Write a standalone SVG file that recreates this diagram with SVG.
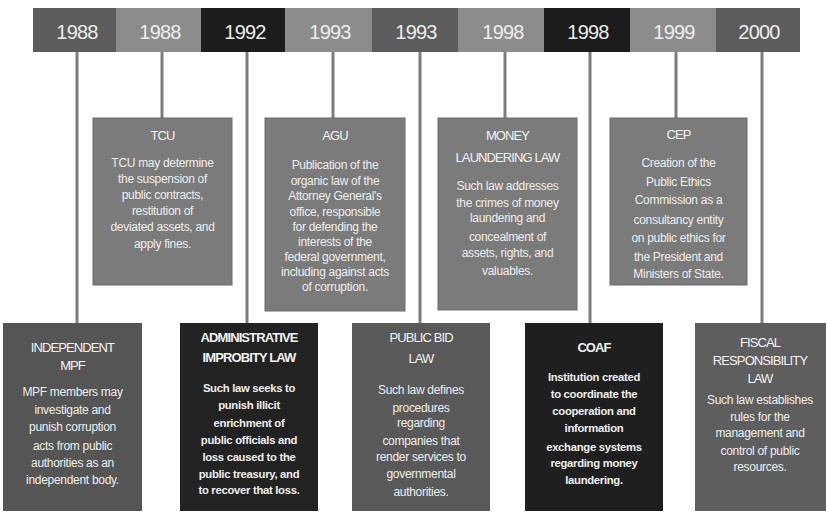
<svg xmlns="http://www.w3.org/2000/svg" width="826" height="514" viewBox="0 0 826 514">
<style>
.yr{font-family:"Liberation Sans",Arial,sans-serif;font-size:20px;fill:#ececec;text-anchor:middle;letter-spacing:-0.8px}
.tt{font-family:"Liberation Sans",Arial,sans-serif;font-size:13px;fill:#f2f2f2;text-anchor:middle;letter-spacing:-0.9px}
.bd{font-family:"Liberation Sans",Arial,sans-serif;font-size:12px;fill:#eeeeee;text-anchor:middle;letter-spacing:-0.3px}
.b{font-weight:bold}
.bd.b{font-size:11.3px}
.conn line{stroke:#7c7c7c;stroke-width:3}
.up{fill:#7b7b7b;stroke:#6a6a6a;stroke-width:1}
</style>
<rect width="826" height="514" fill="#ffffff"/>
<g id="timeline">
<rect x="33" y="8" width="83" height="44" fill="#5c5c5c"/>
<rect x="116" y="8" width="85" height="44" fill="#8c8c8c"/>
<rect x="201" y="8" width="84" height="44" fill="#1c1c1c"/>
<rect x="285" y="8" width="87" height="44" fill="#8c8c8c"/>
<rect x="372" y="8" width="86" height="44" fill="#5c5c5c"/>
<rect x="458" y="8" width="86" height="44" fill="#8c8c8c"/>
<rect x="544" y="8" width="86" height="44" fill="#1c1c1c"/>
<rect x="630" y="8" width="86" height="44" fill="#8c8c8c"/>
<rect x="716" y="8" width="84" height="44" fill="#5c5c5c"/>
<text class="yr" x="77" y="39">1988</text>
<text class="yr" x="160" y="39">1988</text>
<text class="yr" x="245" y="39">1992</text>
<text class="yr" x="330" y="39">1993</text>
<text class="yr" x="416" y="39">1993</text>
<text class="yr" x="503" y="39">1998</text>
<text class="yr" x="588" y="39">1998</text>
<text class="yr" x="674" y="39">1999</text>
<text class="yr" x="759" y="39">2000</text>
</g>
<g class="conn" id="connectors">
<line x1="77" y1="52" x2="77" y2="323"/>
<line x1="162" y1="52" x2="162" y2="118"/>
<line x1="247" y1="52" x2="247" y2="323"/>
<line x1="333" y1="52" x2="333" y2="118"/>
<line x1="420" y1="52" x2="420" y2="323"/>
<line x1="505" y1="52" x2="505" y2="118"/>
<line x1="590" y1="52" x2="590" y2="323"/>
<line x1="676" y1="52" x2="676" y2="118"/>
<line x1="762" y1="52" x2="762" y2="323"/>
</g>
<g id="tcu">
<rect class="up" x="93" y="118" width="139" height="167"/>
<text class="tt" x="162.5" y="140">TCU</text>
<text class="bd" x="162.5" y="167">TCU may determine</text>
<text class="bd" x="162.5" y="183">the suspension of</text>
<text class="bd" x="162.5" y="199">public contracts,</text>
<text class="bd" x="162.5" y="215">restitution of</text>
<text class="bd" x="162.5" y="231">deviated assets, and</text>
<text class="bd" x="162.5" y="248">apply fines.</text>
</g>
<g id="agu">
<rect class="up" x="265" y="118" width="140" height="193"/>
<text class="tt" x="335" y="140">AGU</text>
<text class="bd" x="335" y="169">Publication of the</text>
<text class="bd" x="335" y="185">organic law of the</text>
<text class="bd" x="335" y="200">Attorney General's</text>
<text class="bd" x="335" y="216">office, responsible</text>
<text class="bd" x="335" y="231">for defending the</text>
<text class="bd" x="335" y="246">interests of the</text>
<text class="bd" x="335" y="261">federal government,</text>
<text class="bd" x="335" y="276">including against acts</text>
<text class="bd" x="335" y="291">of corruption.</text>
</g>
<g id="money-laundering">
<rect class="up" x="438" y="118" width="139" height="192"/>
<text class="tt" x="507.5" y="140">MONEY</text>
<text class="tt" x="507.5" y="162">LAUNDERING LAW</text>
<text class="bd" x="507.5" y="190">Such law addresses</text>
<text class="bd" x="507.5" y="207">the crimes of money</text>
<text class="bd" x="507.5" y="222">laundering and</text>
<text class="bd" x="507.5" y="241">concealment of</text>
<text class="bd" x="507.5" y="257">assets, rights, and</text>
<text class="bd" x="507.5" y="275">valuables.</text>
</g>
<g id="cep">
<rect class="up" x="610" y="118" width="137" height="167"/>
<text class="tt" x="678.5" y="139">CEP</text>
<text class="bd" x="678.5" y="167">Creation of the</text>
<text class="bd" x="678.5" y="186">Public Ethics</text>
<text class="bd" x="678.5" y="204">Commission as a</text>
<text class="bd" x="678.5" y="224">consultancy entity</text>
<text class="bd" x="678.5" y="242">on public ethics for</text>
<text class="bd" x="678.5" y="261">the President and</text>
<text class="bd" x="678.5" y="278">Ministers of State.</text>
</g>
<g id="independent-mpf">
<rect x="3" y="323" width="139" height="188" fill="#555555"/>
<text class="tt" x="72.5" y="352">INDEPENDENT</text>
<text class="tt" x="72.5" y="370">MPF</text>
<text class="bd" x="72.5" y="396">MPF members may</text>
<text class="bd" x="72.5" y="414">investigate and</text>
<text class="bd" x="72.5" y="431">punish corruption</text>
<text class="bd" x="72.5" y="450">acts from public</text>
<text class="bd" x="72.5" y="467">authorities as an</text>
<text class="bd" x="72.5" y="484">independent body.</text>
</g>
<g id="administrative-improbity">
<rect x="180" y="323" width="138" height="188" fill="#222222"/>
<text class="tt b" x="249" y="342">ADMINISTRATIVE</text>
<text class="tt b" x="249" y="362">IMPROBITY LAW</text>
<text class="bd b" x="249" y="392">Such law seeks to</text>
<text class="bd b" x="249" y="409">punish illicit</text>
<text class="bd b" x="249" y="427">enrichment of</text>
<text class="bd b" x="249" y="444">public officials and</text>
<text class="bd b" x="249" y="461">loss caused to the</text>
<text class="bd b" x="249" y="478">public treasury, and</text>
<text class="bd b" x="249" y="494">to recover that loss.</text>
</g>
<g id="public-bid">
<rect x="352" y="323" width="138" height="188" fill="#595959"/>
<text class="tt" x="421" y="342">PUBLIC BID</text>
<text class="tt" x="421" y="363">LAW</text>
<text class="bd" x="421" y="394">Such law defines</text>
<text class="bd" x="421" y="412">procedures</text>
<text class="bd" x="421" y="427">regarding</text>
<text class="bd" x="421" y="445">companies that</text>
<text class="bd" x="421" y="461">render services to</text>
<text class="bd" x="421" y="478">governmental</text>
<text class="bd" x="421" y="496">authorities.</text>
</g>
<g id="coaf">
<rect x="525" y="323" width="138" height="188" fill="#1f1f1f"/>
<text class="tt b" x="594" y="352">COAF</text>
<text class="bd b" x="594" y="381">Institution created</text>
<text class="bd b" x="594" y="398">to coordinate the</text>
<text class="bd b" x="594" y="415">cooperation and</text>
<text class="bd b" x="594" y="432">information</text>
<text class="bd b" x="594" y="451">exchange systems</text>
<text class="bd b" x="594" y="467">regarding money</text>
<text class="bd b" x="594" y="484">laundering.</text>
</g>
<g id="fiscal-responsibility">
<rect x="695" y="323" width="131" height="188" fill="#5e5e5e"/>
<text class="tt" x="760" y="347">FISCAL</text>
<text class="tt" x="760" y="365">RESPONSIBILITY</text>
<text class="tt" x="760" y="383">LAW</text>
<text class="bd" x="760" y="404">Such law establishes</text>
<text class="bd" x="760" y="421">rules for the</text>
<text class="bd" x="760" y="437">management and</text>
<text class="bd" x="760" y="455">control of public</text>
<text class="bd" x="760" y="471">resources.</text>
</g>
</svg>
